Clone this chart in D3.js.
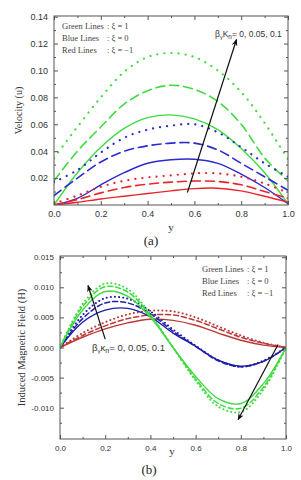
<!DOCTYPE html>
<html>
<head>
<meta charset="utf-8">
<script src="https://cdn.jsdelivr.net/npm/d3@7"></script>
<style>
  body { margin: 0; background: #fff; }
  svg { display: block; }
</style>
</head>
<body>
<svg id="chart" width="301" height="480"></svg>
<script>
(() => {
    'use strict';

    const yPos = [0, 0.1, 0.2, 0.3, 0.4, 0.5, 0.6, 0.7, 0.8, 0.9, 1.0];
    const xTicks = [0, 0.2, 0.4, 0.6, 0.8, 1.0];
    const xMinor = [0.1, 0.3, 0.5, 0.7, 0.9];
    const kappaValues = ['0', '0.05', '0.1'];   // βγKn, one curve each (solid, dashed, dotted)

    // (a) velocity u, xi = 1 / 0 / -1
    const velGreen0   = [0, 0.024, 0.043, 0.057, 0.065, 0.067, 0.064, 0.056, 0.042, 0.024, 0.001];
    const velGreen005 = [0.018, 0.040, 0.058, 0.075, 0.085, 0.089, 0.086, 0.077, 0.060, 0.035, 0.018];
    const velGreen01  = [0.035, 0.058, 0.080, 0.099, 0.110, 0.113, 0.110, 0.100, 0.084, 0.061, 0.034];
    const velBlue0    = [0, 0.005, 0.015, 0.024, 0.031, 0.0336, 0.034, 0.031, 0.023, 0.013, 0.001];
    const velBlue005  = [0.007, 0.020, 0.032, 0.040, 0.044, 0.046, 0.046, 0.041, 0.031, 0.021, 0.011];
    const velBlue01   = [0.017, 0.026, 0.039, 0.050, 0.056, 0.059, 0.060, 0.054, 0.043, 0.031, 0.021];
    const velRed0     = [0, 0.002, 0.0045, 0.0065, 0.0085, 0.0105, 0.0122, 0.0125, 0.0105, 0.0065, 0.002];
    const velRed005   = [0, 0.004, 0.009, 0.013, 0.0155, 0.017, 0.0178, 0.0175, 0.015, 0.010, 0.005];
    const velRed01    = [0.001, 0.007, 0.0135, 0.018, 0.0205, 0.022, 0.0235, 0.0235, 0.021, 0.016, 0.009];
    const velTicks = [0.02, 0.04, 0.06, 0.08, 0.10, 0.12, 0.14];

    // (b) induced magnetic field H
    const magGreen0   = [0, 0.0062, 0.0093, 0.0085, 0.0050, 0, -0.0048, -0.0085, -0.0093, -0.0060, 0];
    const magGreen005 = [0, 0.0068, 0.0101, 0.0092, 0.0053, 0, -0.0052, -0.0093, -0.0101, -0.0066, 0];
    const magGreen01  = [0, 0.0072, 0.0106, 0.0097, 0.0055, 0, -0.0055, -0.0098, -0.0107, -0.0070, 0];
    const magBlue0    = [0, 0.0042, 0.0062, 0.0065, 0.0051, 0.0024, 0.0002, -0.0021, -0.0031, -0.0023, 0];
    const magBlue005  = [0, 0.0048, 0.0074, 0.0074, 0.0056, 0.0027, 0.0002, -0.0022, -0.0032, -0.0023, 0];
    const magBlue01   = [0, 0.0054, 0.0082, 0.0081, 0.0060, 0.0030, 0.0003, -0.0021, -0.0032, -0.0022, 0];
    const magRed0     = [0, 0.0017, 0.0031, 0.0041, 0.0047, 0.0045, 0.0037, 0.0024, 0.0012, 0.0004, 0];
    const magRed005   = [0, 0.0020, 0.0036, 0.0048, 0.0054, 0.0054, 0.0045, 0.0031, 0.0017, 0.0007, 0];
    const magRed01    = [0, 0.0024, 0.0042, 0.0055, 0.0061, 0.0060, 0.0050, 0.0035, 0.0020, 0.0008, 0];
    const magTicks = [-0.010, -0.005, 0, 0.005, 0.010, 0.015];

    const legendRows = [['Green Lines', ': \u03BE = 1'], ['Blue Lines', ': \u03BE = 0'], ['Red Lines', ': \u03BE = \u22121']];

    const svg = d3.select('#chart');

    svg.append('defs').append('marker')
        .attr('id', 'head')
        .attr('viewBox', '0 0 10 8')
        .attr('refX', 9).attr('refY', 4)
        .attr('markerWidth', 7).attr('markerHeight', 6)
        .attr('markerUnits', 'userSpaceOnUse')
        .attr('orient', 'auto')
        .append('path')
        .attr('d', 'M0,0L10,4L0,8L3,4Z')
        .attr('fill', '#111');

    const drawPanel = p => {
        const x = d3.scaleLinear().domain([0, 1]).range([p.left, p.right]);
        const y = d3.scaleLinear().domain(p.yDomain).range([p.bottom, p.top]);
        const g = svg.append('g');

        const line = d3.line()
            .x((d, i) => x(yPos[i]))
            .y(d => y(d))
            .curve(d3.curveCatmullRom.alpha(0.5));

        const clipId = 'clip' + p.name;
        svg.select('defs').append('clipPath').attr('id', clipId)
            .append('rect')
            .attr('x', p.left).attr('y', p.top)
            .attr('width', p.right - p.left).attr('height', p.bottom - p.top);

        const lines = g.append('g').attr('clip-path', 'url(#' + clipId + ')');
        p.series.forEach(s => {
            lines.append('path')
                .datum(s.values)
                .attr('d', line)
                .attr('fill', 'none')
                .attr('stroke', s.color)
                .attr('stroke-width', s.width)
                .attr('stroke-linecap', 'round')
                .attr('stroke-dasharray', s.dash);
        });

        // frame + inward ticks on all four sides
        const axes = [
            [d3.axisBottom(x), 'translate(0,' + p.bottom + ')', xTicks, xMinor, d3.format('.1f')],
            [d3.axisTop(x), 'translate(0,' + p.top + ')', xTicks, xMinor, null],
            [d3.axisLeft(y), 'translate(' + p.left + ',0)', p.yTicks, p.yMinor, p.yFormat],
            [d3.axisRight(y), 'translate(' + p.right + ',0)', p.yTicks, p.yMinor, null]
        ];
        axes.forEach(([axis, tr, major, minor, fmt]) => {
            const a = g.append('g').attr('transform', tr)
                .call(axis.tickValues(major).tickSize(-4).tickPadding(6).tickFormat(fmt || ''));
            a.select('.domain').remove();
            a.selectAll('line').attr('stroke', '#555');
            a.selectAll('text')
                .attr('font-family', 'Liberation Sans, Arial, sans-serif')
                .attr('font-size', p.tickSize)
                .attr('fill', '#333');
            const m = g.append('g').attr('transform', tr)
                .call(axis.tickValues(minor).tickSize(-2).tickFormat(''));
            m.select('.domain').remove();
            m.selectAll('line').attr('stroke', '#555');
        });

        g.append('rect')
            .attr('x', p.left).attr('y', p.top)
            .attr('width', p.right - p.left).attr('height', p.bottom - p.top)
            .attr('fill', 'none').attr('stroke', '#555').attr('stroke-width', 1);

        // axis titles
        g.append('text')
            .attr('transform', 'translate(' + p.yLabelX + ',' + ((p.top + p.bottom) / 2) + ') rotate(-90)')
            .attr('text-anchor', 'middle')
            .attr('font-family', 'Liberation Serif, serif')
            .attr('font-size', p.yLabelSize)
            .attr('fill', '#333')
            .text(p.yLabel);
        g.append('text')
            .attr('x', p.xLabelX).attr('y', p.xLabelY)
            .attr('text-anchor', 'middle')
            .attr('font-family', 'Liberation Serif, serif')
            .attr('font-size', 11)
            .attr('fill', '#333')
            .text('y');
        g.append('text')
            .attr('x', p.captionX).attr('y', p.captionY)
            .attr('text-anchor', 'middle')
            .attr('font-family', 'Liberation Serif, serif')
            .attr('font-size', 13)
            .attr('fill', '#222')
            .text(p.caption);

        // legend
        const leg = g.append('g')
            .attr('font-family', 'Liberation Serif, serif')
            .attr('font-size', 8.5)
            .attr('fill', '#444');
        legendRows.forEach((r, i) => {
            leg.append('text').attr('x', p.legendX).attr('y', p.legendY + i * 12).text(r[0]);
            leg.append('text').attr('x', p.legendX + 45).attr('y', p.legendY + i * 12).text(r[1]);
        });

        // arrows
        p.arrows.forEach(a => {
            g.append('line')
                .attr('x1', x(a[0])).attr('y1', y(a[1]))
                .attr('x2', x(a[2])).attr('y2', y(a[3]))
                .attr('stroke', '#111').attr('stroke-width', 1.2)
                .attr('marker-end', 'url(#head)');
        });

        // beta_gamma K_n annotation
        const t = g.append('text')
            .attr('x', p.noteX).attr('y', p.noteY)
            .attr('font-family', 'Liberation Sans, Arial, sans-serif')
            .attr('font-size', p.noteSize)
            .attr('fill', '#333');
        t.append('tspan').text('\u03B2');
        t.append('tspan').attr('dy', 2).attr('font-size', p.noteSize * 0.65).text('\u03B3');
        t.append('tspan').attr('dy', -2).text(p.kSymbol);
        t.append('tspan').attr('dy', 2).attr('font-size', p.noteSize * 0.75).text('n');
        t.append('tspan').attr('dy', -2).text('= ' + kappaValues.join(', '));
    };

    const styleSet = (colors, big) => {
        const dash = big ? '9,5' : '5,3';
        const dot = big ? '0.1,7' : '0.1,4';
        return [null, dash, dot];
    };

    const topDash = styleSet(null, true);
    drawPanel({
        name: 'a', left: 54, right: 288, top: 16, bottom: 205,
        yDomain: [0, 0.1405], yTicks: velTicks,
        yMinor: [0.01, 0.03, 0.05, 0.07, 0.09, 0.11, 0.13],
        yFormat: d3.format('.2f'), tickSize: 9,
        series: [
            { values: velGreen0, color: '#3fdc3f', dash: topDash[0], width: 1.4 },
            { values: velGreen005, color: '#3fdc3f', dash: topDash[1], width: 1.6 },
            { values: velGreen01, color: '#3fdc3f', dash: topDash[2], width: 2.2 },
            { values: velBlue0, color: '#2b2bd0', dash: topDash[0], width: 1.4 },
            { values: velBlue005, color: '#2b2bd0', dash: topDash[1], width: 1.6 },
            { values: velBlue01, color: '#2b2bd0', dash: topDash[2], width: 2.2 },
            { values: velRed0, color: '#e8262a', dash: topDash[0], width: 1.4 },
            { values: velRed005, color: '#e8262a', dash: topDash[1], width: 1.6 },
            { values: velRed01, color: '#e8262a', dash: topDash[2], width: 2.2 }
        ],
        yLabel: 'Velocity (u)', yLabelX: 22, yLabelSize: 10,
        xLabelX: 171, xLabelY: 231, caption: '(a)', captionX: 151, captionY: 245,
        legendX: 62, legendY: 29,
        arrows: [[0.57, 0.0093, 0.78, 0.123]],
        noteX: 215, noteY: 37, noteSize: 8.5, kSymbol: 'K'
    });

    const botDash = styleSet(null, false);
    drawPanel({
        name: 'b', left: 60, right: 286, top: 256, bottom: 439,
        yDomain: [-0.0152, 0.0152], yTicks: magTicks,
        yMinor: [-0.0125, -0.0075, -0.0025, 0.0025, 0.0075, 0.0125],
        yFormat: d => d.toFixed(3), tickSize: 8,
        series: [
            { values: magRed0, color: '#bb3a38', dash: botDash[0], width: 1.4 },
            { values: magRed005, color: '#bb3a38', dash: botDash[1], width: 1.5 },
            { values: magRed01, color: '#bb3a38', dash: botDash[2], width: 2 },
            { values: magBlue0, color: '#2020a8', dash: botDash[0], width: 1.4 },
            { values: magBlue005, color: '#2020a8', dash: botDash[1], width: 1.5 },
            { values: magBlue01, color: '#2020a8', dash: botDash[2], width: 2 },
            { values: magGreen0, color: '#3fdc3f', dash: botDash[0], width: 1.4 },
            { values: magGreen005, color: '#3fdc3f', dash: botDash[1], width: 1.5 },
            { values: magGreen01, color: '#3fdc3f', dash: botDash[2], width: 2 }
        ],
        yLabel: 'Induced Magnetic Field (H)', yLabelX: 25, yLabelSize: 10.5,
        xLabelX: 172, xLabelY: 455, caption: '(b)', captionX: 149, captionY: 474,
        legendX: 202, legendY: 272,
        arrows: [[0.2, 0.0014, 0.124, 0.0103], [0.965, 0.0005, 0.788, -0.012]],
        noteX: 92, noteY: 351, noteSize: 9.5, kSymbol: '\u03BA'
    });
})();
</script>
</body>
</html>
